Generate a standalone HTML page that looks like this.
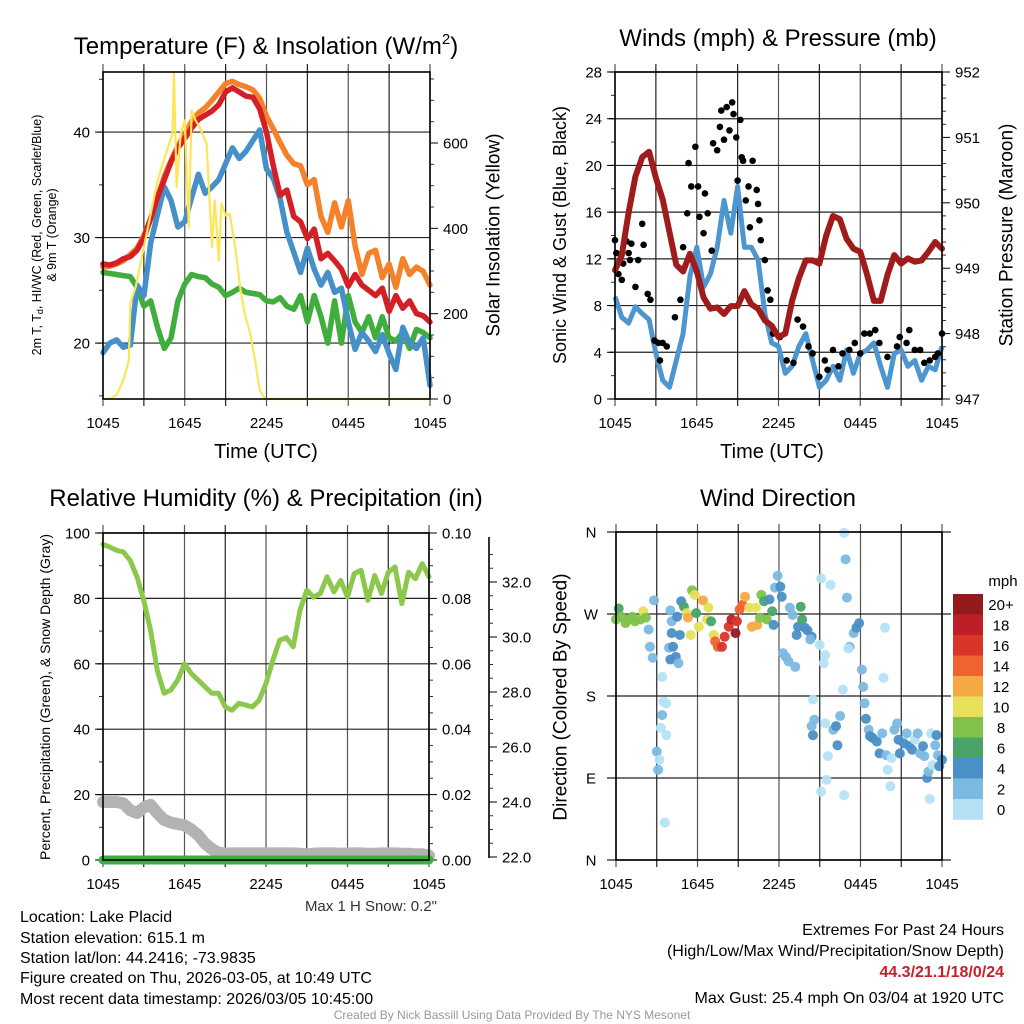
<!DOCTYPE html>
<html><head><meta charset="utf-8"><style>
html,body{margin:0;padding:0;background:#fff;}
svg{display:block;font-family:"Liberation Sans",sans-serif;}
</style></head><body>
<svg id="root" xmlns="http://www.w3.org/2000/svg" width="1024" height="1024" viewBox="0 0 1024 1024">
<rect width="1024" height="1024" fill="#fff"/>
<g id="p1"></g>
<g id="p2"></g>
<g id="p3"></g>
<g id="p4"></g>
<g font-size="24" text-anchor="middle" fill="#000">
<text x="266" y="54">Temperature (F) &amp; Insolation (W/m<tspan font-size="15" dy="-10">2</tspan><tspan dy="10">)</tspan></text>
<text x="778" y="46">Winds (mph) &amp; Pressure (mb)</text>
<text x="266" y="506">Relative Humidity (%) &amp; Precipitation (in)</text>
<text x="778" y="506">Wind Direction</text>
</g>
<g font-size="20" text-anchor="middle">
<text x="266" y="458">Time (UTC)</text>
<text x="772" y="458">Time (UTC)</text>
<text transform="rotate(-90 494 235)" x="494" y="235" dominant-baseline="central" font-size="19">Solar Insolation (Yellow)</text>
<text transform="rotate(-90 560 235)" x="560" y="235" dominant-baseline="central" font-size="18">Sonic Wind &amp; Gust (Blue, Black)</text>
<text transform="rotate(-90 1007 235)" x="1007" y="235" dominant-baseline="central" font-size="19">Station Pressure (Maroon)</text>
<text transform="rotate(-90 561 697)" x="561" y="697" dominant-baseline="central" font-size="19">Direction (Colored By Speed)</text>
<text transform="rotate(-90 45 697)" x="45" y="697" dominant-baseline="central" font-size="14">Percent, Precipitation (Green), &amp; Snow Depth (Gray)</text>
<text transform="rotate(-90 37 235)" x="37" y="235" dominant-baseline="central" font-size="12.5">2m T, T<tspan font-size="9" dy="3">d</tspan><tspan dy="-3">, HI/WC (Red, Green, Scarlet/Blue)</tspan></text>
<text transform="rotate(-90 52 235)" x="52" y="235" dominant-baseline="central" font-size="12.5">&amp; 9m T (Orange)</text>
</g>
<g font-size="16" fill="#000">
<text x="20" y="922">Location: Lake Placid</text>
<text x="20" y="943">Station elevation: 615.1 m</text>
<text x="20" y="963">Station lat/lon: 44.2416; -73.9835</text>
<text x="20" y="983">Figure created on Thu, 2026-03-05, at 10:49 UTC</text>
<text x="20" y="1004">Most recent data timestamp: 2026/03/05 10:45:00</text>
<text x="1004" y="935" text-anchor="end">Extremes For Past 24 Hours</text>
<text x="1004" y="956" text-anchor="end">(High/Low/Max Wind/Precipitation/Snow Depth)</text>
<text x="1004" y="977" text-anchor="end" fill="#c8202a" font-weight="bold">44.3/21.1/18/0/24</text>
<text x="1004" y="1003" text-anchor="end">Max Gust: 25.4 mph On 03/04 at 1920 UTC</text>
<text x="437" y="911" text-anchor="end" font-size="15" fill="#333">Max 1 H Snow: 0.2"</text>
<text x="512" y="1019" text-anchor="middle" font-size="12" fill="#999">Created By Nick Bassill Using Data Provided By The NYS Mesonet</text>
</g>
</svg>
<script>
// ---- data ----
const hours = [0,0.5,1,1.5,2,2.5,3,3.5,4,4.5,5,5.5,6,6.5,7,7.5,8,8.5,9,9.5,10,10.5,11,11.5,12,12.5,13,13.5,14,14.5,15,15.5,16,16.5,17,17.5,18,18.5,19,19.5,20,20.5,21,21.5,22,22.5,23,23.5,24];
const xTickLabels = ["1045","1645","2245","0445","1045"];
const temp2m = [27.5,27.4,27.6,28,28.2,28.8,30,31.8,33.8,35.5,37.2,38.5,39.4,40.4,41.2,41.6,42,42.6,43.8,44.2,43.8,43.4,43.3,42.2,40,36.8,34,34.5,32,31.5,29.9,30.8,28,28.5,27.8,27,25.4,26.5,25.5,25,24.5,25.2,23,24.5,23.3,24,22.8,22.6,22];
const temp9m = [27.2,27.3,27.5,27.8,28.4,29,30.2,31.8,33.8,35.8,37.3,38.7,39.8,41,41.8,42.3,43,43.8,44.6,44.8,44.5,44.3,44,43.2,41.5,40.3,39,37.8,37,36.8,35,35.5,32,30.5,33.3,31,33.5,29.2,26.5,28.5,28.8,26.2,27.5,25.3,28,26.5,27.2,26.8,25.5];
const windChill = [19.1,20,20.3,19.6,19.8,25.5,24.5,29.5,32.2,34.8,33.5,31,31.5,33.8,36,34.2,34.8,35.5,37,38.5,37.5,38.2,39.2,40.2,36.5,35.6,33.7,30.5,28.6,26.7,29,27,25.5,26.7,24.8,25.2,22,19.4,21,20.2,19.2,20.8,19,17.5,21.5,20,19.5,20.5,16];
const dewpoint = [26.7,26.6,26.5,26.4,26.3,25.3,23.5,24,21.5,19.5,20.5,24,25.6,26.5,26.3,26.2,25.6,25.3,24.5,24.8,25.2,24.8,24.7,24.6,24,23.9,24.3,23.5,23.2,24.5,22,24.5,22.5,20,24,20,24.5,22,21,22.5,20.5,22.5,20.5,20.2,21,19.5,21.3,21,20.5];
const solarHours = [0,0.5,1,1.5,1.9,2,2.4,3,4,4.7,5.1,5.2,5.4,5.7,6,6.3,6.5,6.8,7.1,7.6,8,8.2,8.5,8.7,9,9.3,9.7,10.1,10.4,10.8,11.2,11.5,11.9,24];
const solar = [0,0,10,44,91,224,263,356,512,583,622,766,497,622,653,403,676,653,637,598,356,466,325,458,430,434,356,255,200,154,83,21,0,0];
const pressure = [948.97,949.2,949.85,950.4,950.7,950.78,950.38,950.05,949.55,949.05,948.95,949.22,948.95,948.55,948.38,948.4,948.3,948.42,948.42,948.65,948.45,948.38,948.2,948.12,947.95,948.0,948.5,948.85,949.12,949.12,949.07,949.5,949.8,949.75,949.45,949.3,949.25,948.9,948.5,948.5,948.9,949.2,949.07,949.15,949.1,949.12,949.25,949.4,949.3];
const wind = [8.75,7,6.5,7.9,7.3,6.8,3.9,1.6,1,3.3,5.6,10.5,13,9.6,10.7,13,17,14.2,18.2,13,13,11.9,7.3,4.8,4.5,2.2,2.8,4.5,5.6,3.3,1,1.6,2.8,1.6,4.2,2.2,3.9,4.2,4.8,2.8,1,3.9,4.2,2.8,3.3,1.6,2.8,2.5,4.5];
const gustHours = [0,0.1,0.25,0.5,0.6,0.85,1,1.1,1.2,1.5,1.7,2,2.1,2.4,2.6,2.9,3.2,3.3,3.5,3.8,4.4,4.8,5,5.3,5.4,5.6,5.9,6.1,6.2,6.5,6.6,6.8,7.1,7.2,7.5,7.7,7.8,8,8.2,8.4,8.6,8.7,8.9,9,9.2,9.3,9.4,9.6,9.8,9.9,10.1,10.4,10.5,10.6,10.7,11,11.2,11.4,11.6,12.1,12.6,13.1,13.4,13.8,14.2,14.5,15,15.4,15.6,16,16.4,16.7,17.2,17.6,18,18.3,18.7,19.1,19.4,20,20.7,20.9,21.4,21.6,22,22.4,22.7,23.1,23.5,23.7,24];
const gust = [13.6,12.5,10.7,10.2,11.6,13.5,12.5,11.9,13.3,9.6,11.9,15,13.2,9,8.5,5,4.8,3.3,4.8,4.5,7,8.5,13,15.9,20.2,18.2,21.6,18.2,15.6,14.2,17.6,15.9,12.7,21.9,21.3,23.3,24.7,22.2,25,23,25.4,24.4,22.4,18.7,23.9,20.7,20.4,17,18.2,14.7,20.4,17.9,16.7,15.3,13.6,11.9,9.3,8.5,5.6,5.3,3.3,3.1,6.8,6.2,4.5,3.9,1.9,3.3,2.5,4.2,2.8,3.9,4.2,4.8,3.9,5.6,5.6,5.9,4.8,3.6,4.5,5.3,4.8,5.9,4.2,4.2,3.1,3.3,3.6,3.9,5.6];
const rh = [96.5,95.7,94.7,94.2,91.6,86.6,79.4,70.3,58,51,52,55,60,57,55,53,51,51,46.8,45.8,47.9,47.4,46.8,48.9,54,61,67.2,68,65.2,76.4,82.5,80.4,81.5,86.6,82,85.5,80.4,87.6,88.6,79.4,87,81.5,88,89.6,78.4,88,86,90.6,86.6];
const precip = [0,0,0,0,0,0,0,0,0,0,0,0,0,0,0,0,0,0,0,0,0,0,0,0,0,0,0,0,0,0,0,0,0,0,0,0,0,0,0,0,0,0,0,0,0,0,0,0,0];
const snowDepth = [24,24,24,23.95,23.7,23.6,23.8,23.9,23.6,23.35,23.25,23.2,23.15,23,22.8,22.5,22.3,22.15,22.13,22.13,22.13,22.13,22.13,22.13,22.13,22.13,22.13,22.13,22.13,22.12,22.1,22.12,22.13,22.13,22.13,22.12,22.13,22.13,22.13,22.12,22.12,22.13,22.13,22.13,22.12,22.12,22.1,22.1,22.05];
const dirHours = [0,0.2,0.4,0.7,0.9,1.2,1.4,1.8,2,2.2,2.4,2.5,2.7,2.8,3.4,3.5,3.7,3.4,3.3,3.7,3,3.2,3.1,3.6,3.9,4,4.1,4,4.1,4.2,4.4,4.6,4.5,4.7,4.8,5,5.2,5.3,5.5,5.6,5.8,5.9,6.1,6.4,6.7,6.8,7,7.2,7.3,7.5,7.8,8,8.3,8.5,8.8,8.9,9.1,9.3,9.5,9.8,10,10.4,10.3,10.6,10.7,10.9,11.1,11.3,11.5,11.6,11.7,11.9,12.1,12.2,12.3,12.5,12.7,12.8,13,13.2,13.3,13.4,13.6,13.7,13.9,14.1,14.4,14.3,14.5,14.6,14.5,14.4,15,15.1,15.4,15.3,15.8,15.4,15.6,15.5,15.1,16,16.2,16.3,16.5,16.7,16.8,16.9,17,16.8,17.2,17.1,17.5,17.7,17.9,18.1,18.2,18.3,18.4,18.6,18.7,18.9,19.2,19.4,19.6,19.8,19.7,19.9,20,20.2,20.3,20.5,20.7,20.8,20.9,21.2,21.4,21.6,21.8,22,22.2,22.4,22.6,22.7,22.9,23,23.1,23.2,23.3,23.5,23.6,23.7,23.8,24];
const dirDeg = [264,276,267,260,264,267,262,264,273,266,253,234,222,285,201,174,172,159,145,137,119,110,99,41,233,220,262,274,249,234,223,216,267,247,284,278,271,266,247,296,291,271,256,285,264,277,262,247,240,234,234,245,256,264,249,262,275,280,289,277,256,258,277,266,291,284,264,286,273,258,299,312,300,289,227,223,218,277,269,212,247,256,278,264,255,252,245,242,176,154,137,147,236,309,225,216,302,150,114,88,75,143,147,126,158,187,359,330,288,71,234,232,249,255,260,209,190,172,155,143,136,134,130,117,139,255,200,115,99,81,112,143,150,132,117,128,139,125,121,132,139,117,125,114,90,97,67,139,104,126,137,115,103,110];
const dirSpeed = [9,7,9,9,9,9,9,9,11,9,3,3,3,3,1,1,1,3,1,1,3,1,3,1,3,5,3,3,5,5,5,3,5,5,5,7,11,13,11,9,11,7,11,13,11,11,7,11,15,15,17,17,17,19,21,17,15,15,13,11,13,13,11,9,9,7,9,5,7,5,3,3,5,5,3,3,3,3,3,3,5,5,7,7,5,5,5,3,1,3,5,3,1,1,1,1,1,1,1,1,1,3,5,5,3,1,1,3,3,1,3,1,3,5,5,3,3,3,5,3,5,5,5,5,3,1,1,3,1,1,1,3,3,5,5,5,3,5,5,1,3,3,5,3,5,3,1,1,1,3,5,3,5,5];
const speedBins = [0,2,4,6,8,10,12,14,16,18,20];
const speedBinLabels = ["0","2","4","6","8","10","12","14","16","18","20+"];
const speedColors = ["#b5e1f7","#7cb9e2","#4a8fc6","#4aa46a","#80c24a","#e6e05a","#f5a945","#ee6330","#db3429","#bd1e27","#941a1d"];

// ---- helpers ----
const NS = "http://www.w3.org/2000/svg";
function mk(parent, tag, attrs) {
  const e = document.createElementNS(NS, tag);
  for (const k in attrs) e.setAttribute(k, attrs[k]);
  parent.appendChild(e);
  return e;
}
function lineScale(d0, d1, r0, r1) { return v => r0 + (v - d0) * (r1 - r0) / (d1 - d0); }
function pathFrom(xs, ys, fx, fy) {
  let d = "";
  for (let i = 0; i < xs.length; i++) d += (i ? "L" : "M") + fx(xs[i]).toFixed(1) + "," + fy(ys[i]).toFixed(1);
  return d;
}
function timeGrid(g, x0, x1, y0, y1) {
  const fx = lineScale(0, 24, x0, x1);
  for (let k = 0; k <= 8; k++) {
    const x = fx(k * 3);
    const ln = mk(g, "line", {x1: x, x2: x, y1: y0 - 8, y2: y1 + 7, stroke: k % 2 ? "#222" : "#555", "stroke-width": 1.2});
    
    
  }
  xTickLabels.forEach((lab, i) => {
    const t = mk(g, "text", {x: fx(i * 6), y: y1 + 29, "font-size": 15, "text-anchor": "middle"});
    t.textContent = lab;
    
    
  });
  return fx;
}
function yAxis(g, side, xEdge, fy, majors, labelFmt, minors, gridX0, gridX1, grid) {
  const dir = side === "left" ? -1 : 1;
  majors.forEach(v => {
    const y = fy(v);
    if (grid) {
      const gl = mk(g, "line", {x1: gridX0 - 6, x2: gridX1, y1: y, y2: y, stroke: "#222", "stroke-width": 1.2});
      
      
    }
    const tk = mk(g, "line", {x1: xEdge, x2: xEdge + dir * 8, y1: y, y2: y, stroke: "#000", "stroke-width": 1});
    
    
    const t = mk(g, "text", {x: xEdge + dir * 13, y: y + 5.5, "font-size": 15, "text-anchor": side === "left" ? "end" : "start"});
    t.textContent = labelFmt(v);
    
    
  });
  minors.forEach(v => {
    const y = fy(v);
    const tk = mk(g, "line", {x1: xEdge, x2: xEdge + dir * 4, y1: y, y2: y, stroke: "#333", "stroke-width": 1});
    
    
  });
}
function frame(g, x0, x1, y0, y1) {
  const r = mk(g, "rect", {x: x0, y: y0, width: x1 - x0, height: y1 - y0, fill: "none", stroke: "#000", "stroke-width": 1.6});
  
  
}
function range(a, b, s) { const o = []; for (let v = a; v <= b + 1e-9; v += s) o.push(+v.toFixed(4)); return o; }

// ---- panel 1 ----
(function () {
  const g = document.getElementById("p1");
  const x0 = 103, x1 = 430, y0 = 72, y1 = 399;
  const fx = timeGrid(g, x0, x1, y0, y1);
  const fy = lineScale(14.7, 45.7, 399, 399 - 31 * 10.55);
  const fs = lineScale(0, 600, 399, 143);
  yAxis(g, "left", x0, fy, [20, 30, 40], v => String(v), [15, 25, 35, 45], x0, x1, true);
  yAxis(g, "right", x1, fs, [0, 200, 400, 600], v => String(v), range(50, 750, 50).filter(v => v % 200), x0, x1, false);
  const series = [
    [dewpoint, "#3fae3d", "dewpoint-line"],
    [windChill, "#4590c8", "wind-chill-line"],
    [temp9m, "#f5822b", "temp-9m-line"],
    [temp2m, "#d51f27", "temp-2m-line"]
  ];
  series.forEach(s => {
    const p = mk(g, "path", {d: pathFrom(hours, s[0], fx, fy), fill: "none", stroke: s[1], "stroke-width": 5.5, "stroke-linejoin": "round", "stroke-linecap": "round"});
    
    
  });
  const sp = mk(g, "path", {d: pathFrom(solarHours, solar, fx, fs), fill: "none", stroke: "#fde55a", "stroke-width": 2.2, "stroke-linejoin": "round"});
  
  
  frame(g, x0, x1, y0, y1);
})();

// ---- panel 2 ----
(function () {
  const g = document.getElementById("p2");
  const x0 = 615, x1 = 942, y0 = 72, y1 = 399;
  const fx = timeGrid(g, x0, x1, y0, y1);
  const fy = lineScale(0, 28, 399, 72);
  const fp = lineScale(947, 952, 399, 72);
  yAxis(g, "left", x0, fy, range(0, 28, 4), v => String(v), range(2, 26, 4), x0, x1, true);
  yAxis(g, "right", x1, fp, range(947, 952, 1), v => String(v), range(947.2, 951.8, 0.2).filter(v => Math.abs(v - Math.round(v)) > 0.01), x0, x1, false);
  const wp = mk(g, "path", {d: pathFrom(hours, wind, fx, fy), fill: "none", stroke: "#4d96d0", "stroke-width": 5, "stroke-linejoin": "round"});
  
  
  gustHours.forEach((t, i) => {
    const c = mk(g, "circle", {cx: fx(t), cy: fy(gust[i]), r: 3.3, fill: "#000"});
    
    
  });
  const pp = mk(g, "path", {d: pathFrom(hours, pressure, fx, fp), fill: "none", stroke: "#a01b1b", "stroke-width": 6, "stroke-linejoin": "round", "stroke-linecap": "round"});
  
  
  frame(g, x0, x1, y0, y1);
})();

// ---- panel 3 ----
(function () {
  const g = document.getElementById("p3");
  const x0 = 103, x1 = 429, y0 = 533, y1 = 860;
  const fx = timeGrid(g, x0, x1, y0, y1);
  const fy = lineScale(0, 100, 860, 533);
  const fpr = lineScale(0, 0.1, 860, 533);
  const fsn = lineScale(22, 32, 857, 582);
  yAxis(g, "left", x0, fy, range(0, 100, 20), v => String(v), range(10, 90, 20), x0, x1, true);
  yAxis(g, "right", x1, fpr, range(0, 0.1, 0.02), v => v.toFixed(2), range(0.005, 0.095, 0.005).filter(v => Math.abs(v * 50 - Math.round(v * 50)) > 0.01), x0, x1, false);
  const ax = mk(g, "line", {x1: 489, x2: 489, y1: 537, y2: 858, stroke: "#000", "stroke-width": 1.6});
  
  
  yAxis(g, "right", 489, fsn, range(22, 32, 2), v => v.toFixed(1), range(22.5, 33, 0.5).filter(v => v % 2), x0, x1, false);
  const sp = mk(g, "path", {d: pathFrom(hours, snowDepth, fx, fsn), fill: "none", stroke: "#b3b3b3", "stroke-width": 12, "stroke-linejoin": "round", "stroke-linecap": "round"});
  
  
  const pp = mk(g, "path", {d: pathFrom(hours, precip, fx, fpr), fill: "none", stroke: "#3db043", "stroke-width": 9, "stroke-linecap": "round"});
  
  
  const rp = mk(g, "path", {d: pathFrom(hours, rh, fx, fy), fill: "none", stroke: "#8cc84b", "stroke-width": 5, "stroke-linejoin": "round", "stroke-linecap": "round"});
  
  
  frame(g, x0, x1, y0, y1);
})();

// ---- panel 4 ----
(function () {
  const g = document.getElementById("p4");
  const x0 = 616, x1 = 942, y0 = 532, y1 = 860;
  const fx = timeGrid(g, x0, x1, y0, y1);
  const fd = lineScale(0, 360, 860, 532);
  const dirLabels = ["N", "E", "S", "W", "N"];
  [0, 90, 180, 270, 360].forEach((v, i) => {
    const y = fd(v);
    const gl = mk(g, "line", {x1: x0 - 9, x2: x1 + 9, y1: y, y2: y, stroke: "#222", "stroke-width": 1.2});
    
    
    const t = mk(g, "text", {x: x0 - 25, y: y + 5.5, "font-size": 15, "text-anchor": "middle"});
    t.textContent = dirLabels[i];
    
    
  });
  function colorFor(s) {
    let idx = 0;
    for (let i = 0; i < speedBins.length; i++) if (s >= speedBins[i]) idx = i;
    return speedColors[idx];
  }
  dirHours.forEach((t, i) => {
    const c = mk(g, "circle", {cx: fx(t), cy: fd(dirDeg[i]), r: 5, fill: colorFor(dirSpeed[i]), "fill-opacity": 0.95});
    
    
  });
  frame(g, x0, x1, y0, y1);
  const lg = mk(g, "g", {});
  
  
  const bh = 20.5, top = 594;
  const n = speedColors.length;
  for (let i = 0; i < n; i++) {
    const idx = n - 1 - i;
    const r = mk(lg, "rect", {x: 953, y: top + i * bh, width: 30, height: bh + 0.3, fill: speedColors[idx]});
    
    
    const t = mk(lg, "text", {x: 1001, y: top + i * bh + bh / 2 + 5.5, "font-size": 15, "text-anchor": "middle"});
    t.textContent = speedBinLabels[idx];
    
    
  }
  const mt = mk(lg, "text", {x: 1003, y: 586, "font-size": 15, "text-anchor": "middle"});
  mt.textContent = "mph";
  
  
})();
</script>
</body></html>
